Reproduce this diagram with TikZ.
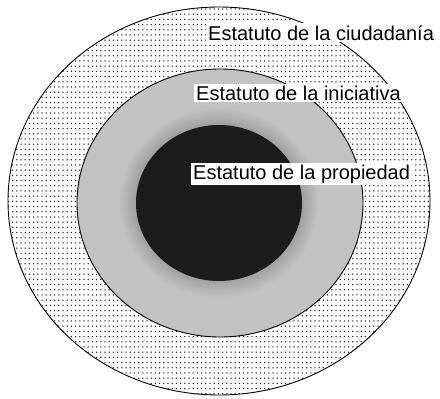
\documentclass[tikz,border=0pt]{standalone}
\usepackage{fontspec}
\setmainfont{Liberation Sans}
\usetikzlibrary{patterns}
\definecolor{dotgray}{HTML}{202020}
\definecolor{ringgray}{HTML}{C2C2C2}
\definecolor{coredark}{HTML}{1c1c1c}

% fine dot screen for the outer ring
\pgfdeclarepatternformonly{finedots}{\pgfqpoint{-1pt}{-1pt}}{\pgfqpoint{1pt}{1pt}}{\pgfqpoint{4.2pt}{5.2pt}}%
{\pgfpathcircle{\pgfqpoint{0pt}{0pt}}{0.75pt}\pgfusepath{fill}}

\tikzset{
  statute/.style={fill=white, inner sep=2pt, anchor=base west,
    font=\fontsize{20}{24}\selectfont},
  ringline/.style={draw=black, line width=0.9pt}
}

\begin{document}
\begin{tikzpicture}[x=1pt,y=-1pt]
\useasboundingbox (0,0) rectangle (440,399);

% Outer ring: dot screen
\fill[white] (219,201) ellipse [x radius=211pt, y radius=194pt];
\fill[pattern=finedots, pattern color=dotgray] (219,201) ellipse [x radius=211pt, y radius=194pt];
\draw[ringline] (219,201) ellipse [x radius=211pt, y radius=194pt];

% Middle ring: grey, a little darker towards the core
\fill[ringgray] (220,203) ellipse [x radius=143pt, y radius=134pt];
\foreach \d in {0,2,...,16}
{
    \fill[black,opacity=0.02] (219,203) ellipse [x radius={83pt+\d pt}, y radius={78pt+\d pt}];
}
\draw[ringline] (220,203) ellipse [x radius=143pt, y radius=134pt];

% Core
\fill[coredark] (219,203) ellipse [x radius=83pt, y radius=78pt];

% Labels
\node[statute] (ciudadania) at (206,40) {Estatuto de la ciudadanía};
\node[statute] (iniciativa) at (194,100) {Estatuto de la iniciativa};
\node[statute] (propiedad) at (191,179) {Estatuto de la propiedad};
\end{tikzpicture}
\end{document}
